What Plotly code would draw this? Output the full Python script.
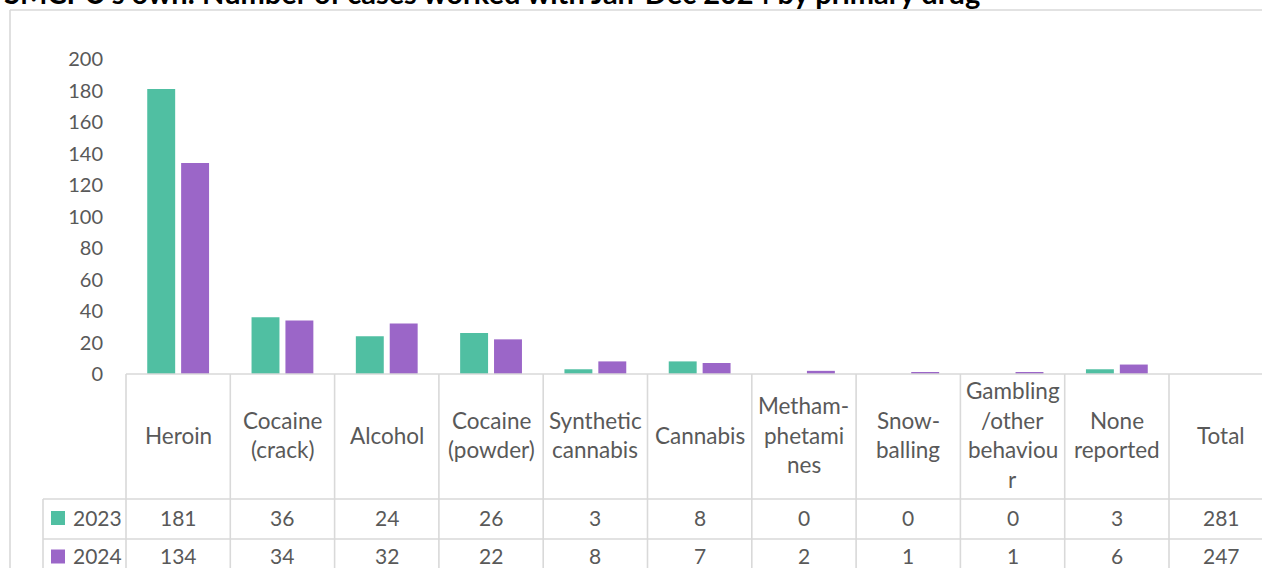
import plotly.graph_objects as go

title = "SMCPU's own: Number of cases worked with Jan-Dec 2024 by primary drug"
categories = ["Heroin", "Cocaine<br>(crack)", "Alcohol", "Cocaine<br>(powder)", "Synthetic<br>cannabis",
              "Cannabis", "Metham-<br>phetami<br>nes", "Snow-<br>balling", "Gambling<br>/other<br>behaviou<br>r",
              "None<br>reported"]
total_label = "Total"
series_names = ["2023", "2024"]
values_2023 = [181, 36, 24, 26, 3, 8, 0, 0, 0, 3]
values_2024 = [134, 34, 32, 22, 8, 7, 2, 1, 1, 6]
y_ticks = [0, 20, 40, 60, 80, 100, 120, 140, 160, 180, 200]

colors = ["#50BFA2", "#9B66C8"]
grid = "#D9D9D9"
txt = "#595959"
FONT = "Lato"

# layout geometry (pixels)
W, H = 1262, 568
L, T = 126, 59
B_PIX = 374
plot_w = W - L
plot_h = B_PIX - T
col_w = 104.3
x0 = -0.5
x1 = x0 + plot_w / col_w

def px(xpix):
    return (xpix - L) / plot_w

def py(ypix):
    return (B_PIX - ypix) / plot_h

def xpaper(v):
    return (v - x0) / (x1 - x0)

all_cols = categories + [total_label]
totals = [sum(values_2023), sum(values_2024)]
idx = list(range(len(categories)))

fig = go.Figure()
for name, vals, c in zip(series_names, [values_2023, values_2024], colors):
    fig.add_trace(go.Bar(x=idx, y=vals, name=name, marker=dict(color=c, line=dict(width=0)),
                         showlegend=False, hoverinfo="x+y"))

shapes = []
line = dict(color=grid, width=1.6)
# chart border
shapes.append(dict(type="line", xref="paper", yref="paper", x0=px(10), x1=px(W + 5), y0=py(10), y1=py(10), line=line))
shapes.append(dict(type="line", xref="paper", yref="paper", x0=px(10), x1=px(10), y0=py(10), y1=py(H + 5), line=line))
# table horizontal lines
row1, row2 = 499, 539
shapes.append(dict(type="line", xref="paper", yref="paper", x0=0, x1=px(W + 5), y0=0, y1=0, line=line))
for ry in [row1, row2]:
    shapes.append(dict(type="line", xref="paper", yref="paper", x0=px(43), x1=px(W + 5), y0=py(ry), y1=py(ry), line=line))
# vertical lines
for k in range(len(all_cols)):
    xv = xpaper(k - 0.5)
    shapes.append(dict(type="line", xref="paper", yref="paper", x0=xv, x1=xv, y0=0, y1=py(H + 5), line=line))
shapes.append(dict(type="line", xref="paper", yref="paper", x0=px(43), x1=px(43), y0=py(row1), y1=py(H + 5), line=line))

annotations = []
fs = 20
fs_lab = 22.5
fs_num = 21
line_h = 29.5
head_mid = (B_PIX + row1) / 2 - 1.5
for k, lab in enumerate(all_cols):
    lines = lab.split("<br>")
    n = len(lines)
    for j, ln in enumerate(lines):
        ymid = head_mid + (j - (n - 1) / 2) * line_h
        annotations.append(dict(text=ln, xref="paper", yref="paper", x=xpaper(k), y=py(ymid),
                                xanchor="center", yanchor="middle", showarrow=False,
                                font=dict(family=FONT, size=fs_lab, color=txt)))
row_mids = [517, 555.5]
for r, (name, vals, tot, c) in enumerate(zip(series_names, [values_2023, values_2024], totals, colors)):
    ym = row_mids[r]
    for k, v in enumerate(list(vals) + [tot]):
        annotations.append(dict(text=str(v), xref="paper", yref="paper", x=xpaper(k), y=py(ym),
                                xanchor="center", yanchor="middle", showarrow=False,
                                font=dict(family=FONT, size=fs_num, color=txt)))
    annotations.append(dict(text=name, xref="paper", yref="paper", x=px(71), y=py(ym),
                            xanchor="left", yanchor="middle", showarrow=False,
                            font=dict(family=FONT, size=fs_num, color=txt)))
    shapes.append(dict(type="rect", xref="paper", yref="paper", x0=px(51), x1=px(65),
                       y0=py(ym + 1 - 7), y1=py(ym + 1 + 7), fillcolor=c, line=dict(width=0)))

annotations.append(dict(text="<b>" + title + "</b>", xref="paper", yref="paper", x=px(2), y=py(-8),
                        xanchor="left", yanchor="middle", showarrow=False,
                        font=dict(family=FONT, size=29, color="#000000")))

fig.update_layout(
    width=W, height=H,
    margin=dict(l=L, r=0, t=T, b=H - B_PIX, autoexpand=False),
    paper_bgcolor="white", plot_bgcolor="white",
    barmode="group", bargap=0.35, bargroupgap=0.176,
    xaxis=dict(range=[x0, x1], showticklabels=False, showgrid=False, zeroline=False, showline=False, ticks=""),
    yaxis=dict(range=[0, 200], tickvals=y_ticks, showgrid=False, zeroline=False, showline=False,
               ticks="", ticklabelstandoff=22, tickfont=dict(family=FONT, size=fs, color=txt)),
    shapes=shapes, annotations=annotations,
)
fig.write_html("out.html", config={"displayModeBar": False},
               post_script="document.body.style.margin='0';document.body.style.overflow='hidden';")
